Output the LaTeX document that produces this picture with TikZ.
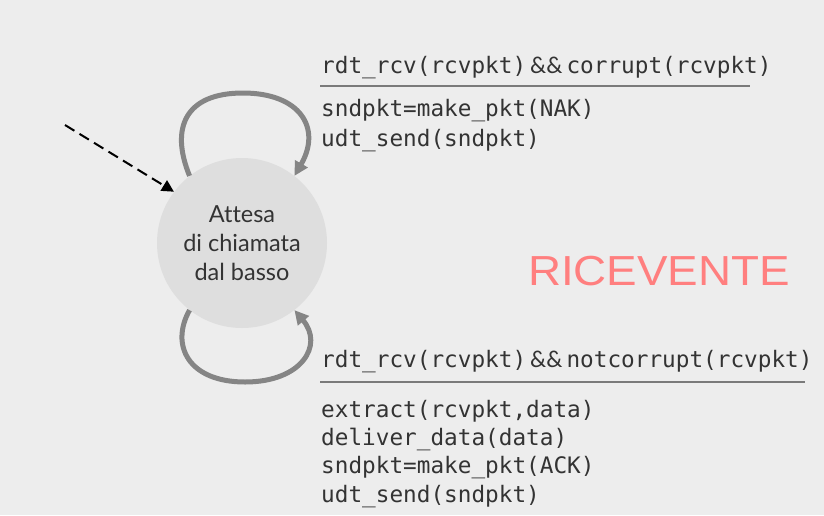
\documentclass[tikz,border=0pt]{standalone}
\usepackage{fontspec}
\setmainfont{Lato}[Ligatures=NoCommon]
\newfontfamily\codefont{DejaVu Sans Mono}
\newfontfamily\labelfont{Liberation Sans}
\usetikzlibrary{arrows.meta}
\definecolor{bgcol}{HTML}{EDEDED}
\definecolor{statefill}{HTML}{DEDEDE}
\definecolor{loopcol}{HTML}{858585}
\definecolor{inkcol}{HTML}{333333}
\definecolor{rulecol}{HTML}{7A7A7A}
\definecolor{tagcol}{HTML}{FF7F7F}
\newcommand{\andand}{\hspace{4pt}{\rmfamily\&\&}\hspace{4pt}}
\tikzset{
  state/.style={circle, fill=statefill, minimum size=170pt, inner sep=0pt,
    align=center, text=inkcol, font=\fontsize{23.5}{29}\selectfont},
  selfloop/.style={draw=loopcol, line width=5pt,
    -{Triangle[length=14pt,width=14pt]}},
  initarrow/.style={draw=black, line width=2pt, dash pattern=on 11pt off 6pt,
    -{Triangle[length=12pt,width=12pt]}},
  code/.style={anchor=base west, inner sep=0pt, text=inkcol,
    font=\codefont\fontsize{22.7}{24}\selectfont},
  guard/.style={draw=rulecol, line width=1.4pt},
  tag/.style={text=tagcol, inner sep=0pt,
    font=\labelfont\fontsize{42}{42}\selectfont, xscale=1.09}
}
\begin{document}
\begin{tikzpicture}[x=1pt,y=-1pt]
  \fill[bgcol] (0,0) rectangle (824,515);
  \useasboundingbox (0,0) rectangle (824,515);

  % state
  \node[state] (s) at (242,243) {Attesa\\di chiamata\\dal basso};

  % initial transition
  \coordinate (init) at (65,125);
  \draw[initarrow] (init) -- (s.143);

  % self-loops
  \draw[selfloop] (s.128) .. controls (170,128) and (185,93) .. (243,93)
    .. controls (300,93) and (322,128) .. (s.52);
  \draw[selfloop] (s.232) .. controls (170,345) and (188,382) .. (245,382)
    .. controls (302,382) and (324,345) .. (s.-52);

  % upper transition: corrupt packet
  \node[code] (g1) at (321,73) {rdt\_rcv(rcvpkt)\andand corrupt(rcvpkt)};
  \coordinate (r1a) at (320,86);
  \coordinate (r1b) at (750,86);
  \draw[guard] (r1a) -- (r1b);
  \node[code] (a1) at (321,116) {sndpkt=make\_pkt(NAK)};
  \node[code] (a2) at (321,146) {udt\_send(sndpkt)};

  % lower transition: packet not corrupt
  \node[code] (g2) at (321,367) {rdt\_rcv(rcvpkt)\andand notcorrupt(rcvpkt)};
  \coordinate (r2a) at (320,382);
  \coordinate (r2b) at (805,382);
  \draw[guard] (r2a) -- (r2b);
  \node[code] (b1) at (321,417) {extract(rcvpkt,data)};
  \node[code] (b2) at (321,445) {deliver\_data(data)};
  \node[code] (b3) at (321,473) {sndpkt=make\_pkt(ACK)};
  \node[code] (b4) at (321,502) {udt\_send(sndpkt)};

  % side tag
  \node[tag] (t) at (659,271) {RICEVENTE};
\end{tikzpicture}
\end{document}
